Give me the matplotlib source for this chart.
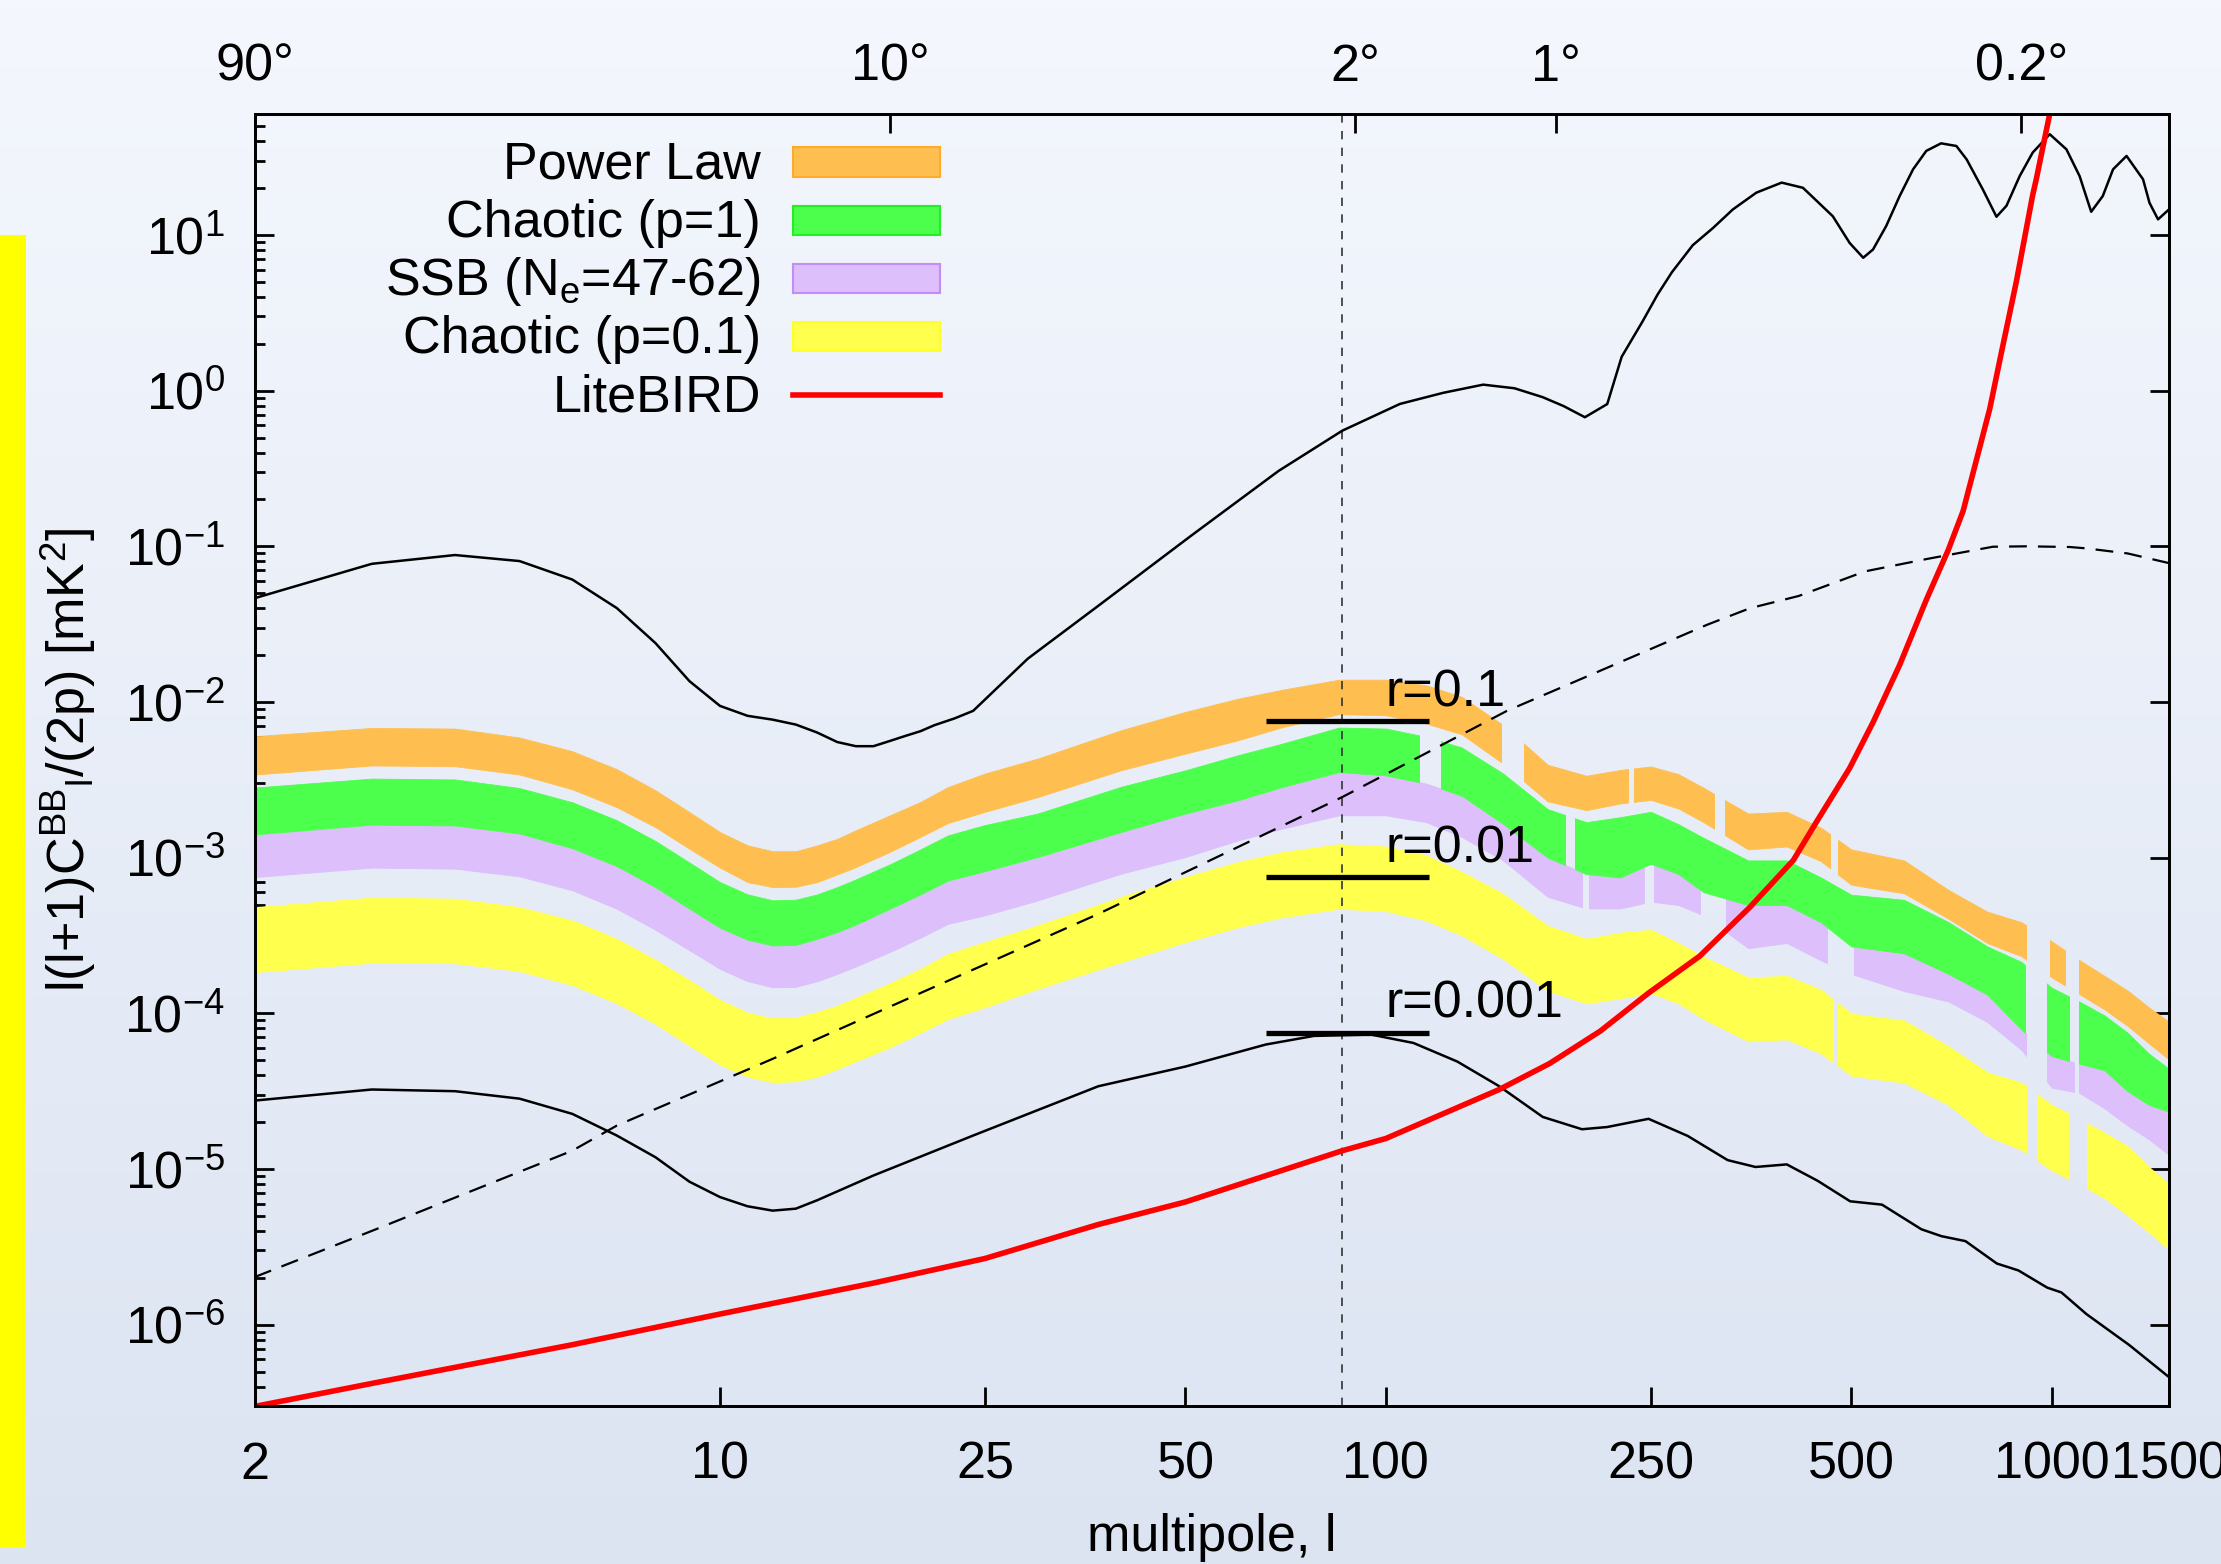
import numpy as np
import matplotlib
matplotlib.use("Agg")
import matplotlib.pyplot as plt
from matplotlib.patches import Rectangle
from matplotlib.lines import Line2D
from matplotlib.colors import LinearSegmentedColormap
from matplotlib.ticker import LogLocator, NullLocator, FuncFormatter

plt.rcParams["font.family"] = ["Liberation Sans", "DejaVu Sans"]
plt.rcParams["mathtext.fontset"] = "custom"
plt.rcParams["mathtext.rm"] = "Liberation Sans"
plt.rcParams["mathtext.it"] = "Liberation Sans:italic"
plt.rcParams["mathtext.default"] = "regular"

# ---- data ----
# multipoles shared by the four model bands
L = [2, 3, 4, 5, 6, 7, 8, 9, 10, 11, 12, 13, 14, 15, 16, 18, 20, 22, 25, 30, 40, 50, 60, 70, 85,
     100, 115, 130, 150, 175, 200, 225, 250, 275, 300, 350, 400, 450, 500, 600, 700, 800, 900,
     1000, 1100, 1200, 1300, 1400, 1500]

power_hi = [6.03e-3, 6.81e-3, 6.75e-3, 5.91e-3, 4.83e-3, 3.70e-3, 2.71e-3, 1.96e-3, 1.46e-3, 1.20e-3,
            1.10e-3, 1.10e-3, 1.20e-3, 1.32e-3, 1.50e-3, 1.87e-3, 2.28e-3, 2.84e-3, 3.47e-3, 4.33e-3,
            6.58e-3, 8.64e-3, 1.05e-2, 1.20e-2, 1.39e-2, 1.39e-2, 1.28e-2, 1.08e-2, 7.1e-3, 3.95e-3,
            3.36e-3, 3.66e-3, 3.85e-3, 3.44e-3, 2.81e-3, 1.92e-3, 1.97e-3, 1.56e-3, 1.13e-3, 9.6e-4,
            6.2e-4, 4.5e-4, 3.85e-4, 2.9e-4, 2.2e-4, 1.74e-4, 1.40e-4, 1.09e-4, 8.8e-5]
power_lo = [3.42e-3, 3.91e-3, 3.87e-3, 3.42e-3, 2.75e-3, 2.11e-3, 1.57e-3, 1.14e-3, 8.63e-4, 6.97e-4,
            6.47e-4, 6.5e-4, 6.97e-4, 7.8e-4, 8.7e-4, 1.09e-3, 1.36e-3, 1.67e-3, 1.97e-3, 2.45e-3,
            3.64e-3, 4.66e-3, 5.68e-3, 6.9e-3, 8.35e-3, 8.22e-3, 7.27e-3, 6.2e-3, 4.02e-3, 2.3e-3,
            2.02e-3, 2.23e-3, 2.35e-3, 2.07e-3, 1.69e-3, 1.13e-3, 1.18e-3, 9.5e-4, 6.7e-4, 5.9e-4,
            4.05e-4, 2.83e-4, 2.33e-4, 1.7e-4, 1.33e-4, 1.06e-4, 8.3e-5, 6.4e-5, 5.05e-5]
chaotic1_hi = [2.82e-3, 3.22e-3, 3.18e-3, 2.8e-3, 2.27e-3, 1.74e-3, 1.28e-3, 9.3e-4, 6.97e-4, 5.81e-4,
               5.32e-4, 5.37e-4, 5.81e-4, 6.47e-4, 7.25e-4, 9.06e-4, 1.13e-3, 1.39e-3, 1.62e-3, 1.92e-3,
               2.85e-3, 3.64e-3, 4.55e-3, 5.41e-3, 6.85e-3, 6.75e-3, 5.97e-3, 5.1e-3, 3.47e-3, 2.05e-3,
               1.69e-3, 1.82e-3, 1.97e-3, 1.64e-3, 1.34e-3, 9.6e-4, 9.6e-4, 7.46e-4, 5.78e-4, 5.36e-4,
               3.85e-4, 2.69e-4, 2.14e-4, 1.46e-4, 1.19e-4, 9.7e-5, 7.5e-5, 5.5e-5, 4.4e-5]
chaotic1_lo = [1.41e-3, 1.63e-3, 1.61e-3, 1.43e-3, 1.15e-3, 8.83e-4, 6.47e-4, 4.7e-4, 3.55e-4, 2.97e-4,
               2.73e-4, 2.75e-4, 3.01e-4, 3.33e-4, 3.72e-4, 4.7e-4, 5.81e-4, 7.13e-4, 8.2e-4, 1.01e-3,
               1.46e-3, 1.92e-3, 2.34e-3, 2.85e-3, 3.55e-3, 3.38e-3, 2.99e-3, 2.5e-3, 1.65e-3, 1.0e-3,
               7.85e-4, 7.46e-4, 9.15e-4, 7.85e-4, 6.0e-4, 4.96e-4, 4.96e-4, 3.85e-4, 2.69e-4, 2.43e-4,
               1.79e-4, 1.32e-4, 7.9e-5, 5.3e-5, 4.75e-5, 4.3e-5, 3.16e-5, 2.58e-5, 2.33e-5]
ssb_lo = [7.5e-4, 8.63e-4, 8.5e-4, 7.58e-4, 6.17e-4, 4.7e-4, 3.44e-4, 2.54e-4, 1.93e-4, 1.61e-4,
          1.47e-4, 1.48e-4, 1.61e-4, 1.79e-4, 2.0e-4, 2.48e-4, 3.06e-4, 3.76e-4, 4.26e-4, 5.31e-4,
          7.88e-4, 1.01e-3, 1.29e-3, 1.54e-3, 1.87e-3, 1.87e-3, 1.69e-3, 1.36e-3, 9.6e-4, 5.6e-4,
          4.72e-4, 4.72e-4, 5.22e-4, 4.96e-4, 4.26e-4, 2.62e-4, 2.83e-4, 2.19e-4, 1.79e-4, 1.39e-4,
          1.19e-4, 8.8e-5, 5.83e-5, 3.33e-5, 3.08e-5, 2.45e-5, 1.9e-5, 1.55e-5, 1.23e-5]
chaotic01_hi = [4.81e-4, 5.53e-4, 5.45e-4, 4.81e-4, 3.95e-4, 3.01e-4, 2.21e-4, 1.63e-4, 1.22e-4, 1.01e-4,
                9.3e-5, 9.4e-5, 1.02e-4, 1.12e-4, 1.26e-4, 1.56e-4, 1.93e-4, 2.41e-4, 2.87e-4, 3.67e-4,
                5.58e-4, 7.51e-4, 9.37e-4, 1.087e-3, 1.22e-3, 1.18e-3, 1.035e-3, 8.1e-4, 5.86e-4, 3.65e-4,
                3.01e-4, 3.3e-4, 3.44e-4, 2.83e-4, 2.31e-4, 1.70e-4, 1.74e-4, 1.42e-4, 9.96e-5, 9.0e-5,
                6.14e-5, 4.18e-5, 3.59e-5, 2.58e-5, 2.10e-5, 1.71e-5, 1.40e-5, 1.03e-5, 7.98e-6]
chaotic01_lo = [1.84e-4, 2.11e-4, 2.1e-4, 1.87e-4, 1.52e-4, 1.16e-4, 8.55e-5, 6.2e-5, 4.68e-5, 3.92e-5,
                3.61e-5, 3.66e-5, 3.92e-5, 4.39e-5, 4.92e-5, 6.05e-5, 7.5e-5, 9.2e-5, 1.095e-4, 1.437e-4,
                2.13e-4, 2.87e-4, 3.58e-4, 4.15e-4, 4.7e-4, 4.54e-4, 3.95e-4, 3.17e-4, 2.24e-4, 1.4e-4,
                1.16e-4, 1.25e-4, 1.35e-4, 1.16e-4, 9.2e-5, 6.62e-5, 6.8e-5, 5.54e-5, 3.98e-5, 3.59e-5,
                2.58e-5, 1.63e-5, 1.33e-5, 9.8e-6, 7.98e-6, 6.51e-6, 5.04e-6, 3.91e-6, 3.03e-6]

# multipole ranges where a band has no bars
power_gaps = [(149, 161), (231, 236), (311, 323), (464, 478), (914, 993), (1047, 1100)]
chaotic1_gaps = [(112, 121), (186, 192), (913, 984), (1062, 1100)]
ssb_gaps = [(197, 202), (244, 253), (296, 324), (459, 505), (914, 984), (1080, 1100)]
chaotic01_gaps = [(470, 478), (914, 951), (1060, 1130)]

# E-mode spectrum (top solid curve)
ee_l = [2, 3, 4, 5, 6, 7, 8, 9, 10, 11, 12, 13, 14, 15, 16, 17, 18, 19, 20, 21, 22.5, 24, 29, 37, 51,
        69, 86, 105, 122, 140, 156, 172, 185, 199, 215, 226, 243, 256, 269, 289, 310, 332, 360, 393,
        423, 469, 497, 521, 539, 564, 591, 619, 648, 682, 719, 745, 788, 826, 855, 895, 936, 993,
        1052, 1101, 1146, 1193, 1236, 1295, 1371, 1402, 1444, 1500]
ee = [0.0464, 0.0772, 0.0879, 0.0804, 0.0612, 0.0401, 0.0239, 0.0136, 0.00944, 0.00815, 0.0077,
      0.00716, 0.00636, 0.00553, 0.0052, 0.0052, 0.00562, 0.00606, 0.00649, 0.0071, 0.00784, 0.00877,
      0.019, 0.0415, 0.117, 0.305, 0.553, 0.822, 0.969, 1.093, 1.036, 0.908, 0.795, 0.675, 0.82, 1.65,
      2.79, 4.16, 5.78, 8.6, 11.1, 14.6, 18.7, 21.7, 20.1, 13.2, 8.9, 7.14, 8.07, 11.4, 17.8, 26.4,
      34.7, 38.8, 37.3, 30.6, 19.6, 13.1, 15.4, 23.9, 33.8, 44.4, 35.5, 23.9, 14.1, 17.8, 26.4, 32.2,
      22.8, 16.1, 12.6, 14.6]

# lensing B-mode (dashed)
lens_l = [2, 3, 6, 7, 12, 37, 86, 152, 304, 352, 417, 524, 650, 816, 916, 1064, 1127, 1300, 1500]
lens = [2.02e-6, 4.0e-6, 1.31e-5, 1.9e-5, 5.1e-5, 4.35e-4, 2.45e-3, 8.77e-3, 3.14e-2, 4.0e-2, 4.8e-2,
        6.9e-2, 8.3e-2, 9.94e-2, 0.100, 0.099, 0.097, 0.09, 0.078]

# primordial B-mode for r=0.001 (lower solid curve)
tens_l = [2, 3, 4, 5, 6, 7, 8, 9, 10, 11, 12, 13, 14, 17, 24, 37, 50, 66, 78, 95, 110, 128, 148, 172,
          197, 215, 248, 284, 326, 359, 400, 445, 498, 556, 637, 683, 742, 827, 891, 984, 1034, 1127,
          1307, 1500]
tens = [2.75e-5, 3.24e-5, 3.16e-5, 2.83e-5, 2.26e-5, 1.64e-5, 1.19e-5, 8.28e-6, 6.6e-6, 5.76e-6,
        5.4e-6, 5.56e-6, 6.3e-6, 9.08e-6, 1.64e-5, 3.4e-5, 4.55e-5, 6.3e-5, 7.16e-5, 7.3e-5, 6.45e-5,
        4.9e-5, 3.4e-5, 2.16e-5, 1.8e-5, 1.86e-5, 2.1e-5, 1.63e-5, 1.14e-5, 1.03e-5, 1.07e-5, 8.4e-6,
        6.2e-6, 5.9e-6, 4.1e-6, 3.7e-6, 3.44e-6, 2.47e-6, 2.23e-6, 1.73e-6, 1.61e-6, 1.17e-6, 7.4e-7,
        4.6e-7]

# LiteBIRD noise (red)
noise_l = [2, 3, 6, 10, 17, 25, 37, 50, 86, 100, 148, 176, 210, 248, 296, 352, 409, 443, 497, 539,
           591, 648, 699, 736, 807, 840, 885, 936, 948, 993, 1010]
noise = [2.98e-7, 4.19e-7, 7.43e-7, 1.17e-6, 1.85e-6, 2.66e-6, 4.4e-6, 6.14e-6, 1.31e-5, 1.57e-5,
         3.24e-5, 4.75e-5, 7.7e-5, 1.35e-4, 2.33e-4, 4.8e-4, 9.6e-4, 1.69e-3, 3.75e-3, 7.4e-3,
         1.73e-2, 4.53e-2, 9.46e-2, 0.1687, 0.764, 1.75, 5.05, 18.0, 22.9, 60.0, 90.0]

r_values = ["0.1", "0.01", "0.001"]
r_levels = [7.5e-3, 7.5e-4, 7.5e-5]
r_span = (66, 116)
marked_l = 86

x_ticks = [2, 10, 25, 50, 100, 250, 500, 1000, 1500]
top_angles = [90, 10, 2, 1, 0.2]

ORANGE, GREEN, PURPLE, YELLOW = "#ffbf50", "#4dff4d", "#dcbffb", "#ffff4d"
FS = 37.5

fig = plt.figure(figsize=(22.21, 15.64), dpi=100)

# slide background
bg = fig.add_axes([0, 0, 1, 1], zorder=-5)
grad = np.linspace(0, 1, 256).reshape(-1, 1)
bg.imshow(grad, aspect="auto", extent=[0, 1, 0, 1], origin="upper",
          cmap=LinearSegmentedColormap.from_list("bg", ["#f4f7fd", "#dce4f2"]))
bg.add_patch(Rectangle((0, 0.0109), 0.0117, 0.8388, color="#ffff00", lw=0))
bg.set_xlim(0, 1)
bg.set_ylim(0, 1)
bg.axis("off")

ax = fig.add_axes([0.1146, 0.1010, 0.862, 0.8262])
ax.set_facecolor("none")
ax.set_xscale("log")
ax.set_yscale("log")
ax.set_xlim(2, 1500)
ax.set_ylim(3e-7, 60)


def band(lo, hi, color, gaps, z):
    cuts = [L[0]] + [v for g in gaps for v in g] + [L[-1]]
    for a, b in zip(cuts[0::2], cuts[1::2]):
        poly = ax.fill_between(L, lo, hi, facecolor=color, edgecolor=color, linewidth=0.6, zorder=z)
        poly.set_clip_path(Rectangle((a, 1e-9), b - a, 1e4, transform=ax.transData))


band(power_lo, power_hi, ORANGE, power_gaps, 2)
band(ssb_lo, chaotic1_lo, PURPLE, ssb_gaps, 2)
band(chaotic1_lo, chaotic1_hi, GREEN, chaotic1_gaps, 2.1)
band(chaotic01_lo, chaotic01_hi, YELLOW, chaotic01_gaps, 2)

ax.axvline(marked_l, color="#333333", lw=1.2, dashes=(5, 5), zorder=3)
ax.plot(ee_l, ee, color="black", lw=1.8, zorder=3)
ax.plot(tens_l, tens, color="black", lw=1.8, zorder=3)
ax.plot(lens_l, lens, color="black", lw=1.6, dashes=(8, 5), zorder=3)
ax.plot(noise_l, noise, color="#ff0000", lw=4, zorder=5)

for rv, lev in zip(r_values, r_levels):
    ax.plot(r_span, [lev, lev], color="black", lw=3.8, solid_capstyle="butt", zorder=6)
    ax.text(100, lev * 1.25, "r=" + rv, fontsize=FS, ha="left", va="baseline", zorder=6)

# key, drawn like the gnuplot one: text right-aligned, sample on the right
labels = ["Power Law", "Chaotic (p=1)", "SSB (N$_e$=47-62)", "Chaotic (p=0.1)", "LiteBIRD"]
fills = [(ORANGE, "#ffab2a"), (GREEN, "#22f022"), (PURPLE, "#c48cf8"), (YELLOW, "#ffff26"), None]
for i, (lab, fc) in enumerate(zip(labels, fills)):
    yb = 0.9499 - i * 0.04504
    yc = 0.9627 - i * 0.04504
    ax.text(0.2645, yb, lab, transform=ax.transAxes, fontsize=FS, ha="right", va="baseline")
    if fc is None:
        ax.add_line(Line2D([0.2811, 0.358], [yc, yc], transform=ax.transAxes, color="#ff0000", lw=4))
    else:
        ax.add_patch(Rectangle((0.2811, yc - 0.01134), 0.0769, 0.02267, transform=ax.transAxes,
                               facecolor=fc[0], edgecolor=fc[1], lw=1.5))

ax.set_xticks(x_ticks, labels=[str(t) for t in x_ticks])
ax.xaxis.set_minor_locator(NullLocator())
ax.yaxis.set_major_locator(LogLocator(base=10, numticks=20))
ax.yaxis.set_minor_locator(LogLocator(base=10, subs=np.arange(2, 10), numticks=20))
ax.yaxis.set_major_formatter(FuncFormatter(lambda v, p: r"10$^{%d}$" % round(np.log10(v))))
ax.tick_params(which="both", direction="in", width=2, labelsize=FS)
ax.tick_params(which="major", length=13.7)
ax.tick_params(which="minor", length=7)
ax.tick_params(axis="y", left=True, right=True, pad=21)
ax.tick_params(axis="x", bottom=True, top=False, pad=25)
for s in ax.spines.values():
    s.set_linewidth(2)

axt = ax.twiny()
axt.set_xscale("log")
axt.set_xlim(2, 1500)
axt.set_xticks([180 / a for a in top_angles], labels=[f"{a:g}°" for a in top_angles])
axt.xaxis.set_minor_locator(NullLocator())
axt.tick_params(axis="x", direction="in", length=13.7, width=2, labelsize=FS, pad=16)
for s in axt.spines.values():
    s.set_linewidth(2)

ax.set_ylabel(r"l(l+1)C$^{BB}$$_{l}$/(2p) [mK$^{2}$]", fontsize=FS)
ax.yaxis.set_label_coords(-0.082, 0.5)
ax.set_xlabel("multipole, l", fontsize=FS)
ax.xaxis.set_label_coords(0.5, -0.083)

fig.savefig("out.png", dpi=100)
